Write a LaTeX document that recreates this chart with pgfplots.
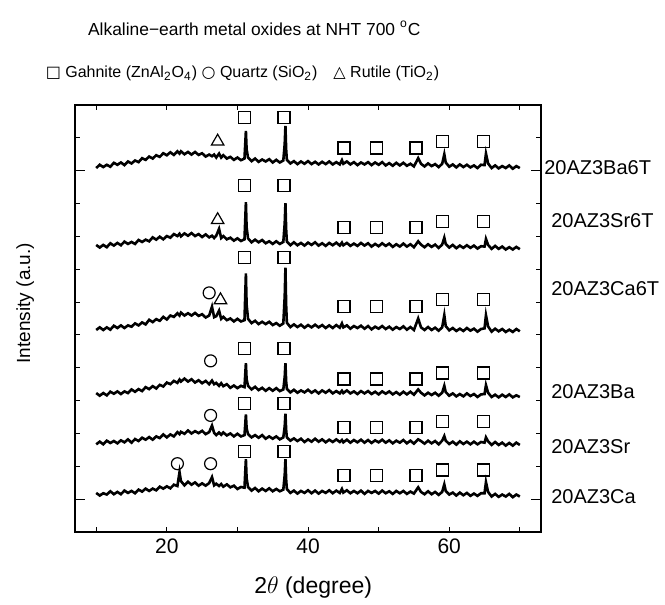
\documentclass[border=0pt]{standalone}
\usepackage{fontspec}
\setmainfont{Liberation Sans}
\newfontfamily\sym{DejaVu Sans}
\usepackage{pgfplots}
\usepackage{pgfplotstable}
\pgfplotsset{compat=1.18}

% columns: 2theta, then one intensity column per sample (offset stacked)
\pgfplotstableread{
x    ca    sr    ba    cat   srt   bat
10.0 0.19 1.67 3.23 5.15 7.74 10.08
10.5 0.11 1.75 3.15 5.23 7.66 10.18
11.0 0.18 1.67 3.23 5.15 7.74 10.11
11.5 0.14 1.78 3.16 5.23 7.67 10.18
12.0 0.24 1.71 3.27 5.16 7.79 10.12
12.5 0.15 1.77 3.21 5.28 7.72 10.24
13.0 0.22 1.70 3.28 5.21 7.80 10.18
13.5 0.15 1.79 3.20 5.29 7.73 10.25
14.0 0.26 1.73 3.28 5.21 7.84 10.17
14.5 0.19 1.82 3.23 5.29 7.77 10.28
15.0 0.25 1.72 3.34 5.25 7.83 10.22
15.5 0.18 1.83 3.27 5.35 7.77 10.31
16.0 0.29 1.77 3.35 5.29 7.89 10.26
16.5 0.23 1.87 3.29 5.38 7.83 10.38
17.0 0.32 1.81 3.41 5.32 7.90 10.33
17.5 0.25 1.89 3.35 5.46 7.85 10.43
18.0 0.32 1.81 3.44 5.39 7.97 10.37
18.5 0.27 1.91 3.37 5.48 7.90 10.47
19.0 0.38 1.86 3.48 5.43 7.99 10.42
19.5 0.32 1.97 3.43 5.55 7.91 10.53
20.0 0.39 1.88 3.55 5.47 8.01 10.47
20.5 0.33 1.97 3.50 5.59 7.96 10.56
21.0 0.44 1.91 3.60 5.55 8.07 10.48
21.5 0.40 2.04 3.54 5.66 8.01 10.59
21.8 0.82 1.98 3.64 5.59 8.08 10.52
22.0 0.55 2.05 3.58 5.68 8.00 10.59
22.5 0.42 1.99 3.67 5.59 8.09 10.50
23.0 0.53 2.09 3.58 5.66 8.02 10.57
23.5 0.44 2.00 3.65 5.59 8.10 10.49
24.0 0.51 2.07 3.55 5.67 8.01 10.57
24.5 0.41 2.01 3.62 5.58 8.07 10.48
25.0 0.48 2.08 3.53 5.63 7.98 10.53
25.5 0.41 1.98 3.60 5.53 8.06 10.43
26.0 0.49 2.04 3.50 5.59 7.97 10.49
26.4 0.67 2.24 3.61 5.86 8.02 10.44
26.7 0.42 2.02 3.50 5.54 7.95 10.49
27.0 0.47 1.95 3.54 5.57 8.02 10.40
27.4 0.40 2.03 3.45 5.74 8.23 10.52
27.7 0.46 1.96 3.53 5.49 7.95 10.40
28.0 0.38 2.03 3.44 5.55 8.01 10.47
28.5 0.45 1.94 3.50 5.45 7.91 10.37
29.0 0.36 2.00 3.39 5.50 7.96 10.42
29.5 0.41 1.91 3.46 5.41 7.87 10.33
30.0 0.31 1.99 3.38 5.49 7.94 10.40
30.5 0.37 1.91 3.45 5.41 7.86 10.32
31.0 0.35 1.95 3.41 5.45 7.91 10.37
31.1 0.78 2.25 3.77 6.15 8.46 10.78
31.2 1.22 2.58 4.14 6.87 9.04 11.21
31.3 0.64 2.16 3.65 5.93 8.28 10.65
31.5 0.37 1.98 3.45 5.49 7.94 10.40
32.0 0.26 1.88 3.34 5.36 7.82 10.29
32.5 0.34 1.95 3.42 5.43 7.90 10.37
33.0 0.24 1.87 3.32 5.33 7.82 10.27
33.5 0.32 1.95 3.39 5.40 7.89 10.34
34.0 0.25 1.84 3.30 5.33 7.79 10.28
34.5 0.33 1.91 3.38 5.40 7.85 10.35
35.0 0.24 1.84 3.30 5.30 7.77 10.25
35.5 0.31 1.91 3.38 5.36 7.85 10.33
36.0 0.24 1.82 3.29 5.28 7.77 10.25
36.5 0.29 1.88 3.34 5.35 7.83 10.31
36.7 0.74 2.22 3.72 6.18 8.40 10.82
36.8 1.22 2.60 4.14 7.05 9.01 11.36
36.9 0.60 2.11 3.59 5.91 8.22 10.65
37.0 0.31 1.88 3.36 5.37 7.84 10.33
37.5 0.19 1.78 3.25 5.24 7.73 10.22
38.0 0.26 1.85 3.33 5.32 7.82 10.29
38.5 0.17 1.77 3.24 5.24 7.73 10.20
39.0 0.25 1.84 3.31 5.31 7.80 10.28
39.5 0.19 1.74 3.25 5.22 7.72 10.21
40.0 0.27 1.82 3.33 5.30 7.81 10.29
40.5 0.18 1.75 3.24 5.23 7.74 10.20
41.0 0.26 1.84 3.31 5.31 7.82 10.27
41.5 0.17 1.75 3.22 5.23 7.72 10.19
42.0 0.25 1.82 3.31 5.30 7.79 10.27
42.5 0.19 1.73 3.24 5.21 7.71 10.20
43.0 0.27 1.81 3.32 5.29 7.80 10.28
43.5 0.18 1.74 3.22 5.21 7.73 10.19
44.0 0.26 1.82 3.29 5.30 7.81 10.26
44.5 0.19 1.74 3.22 5.22 7.72 10.19
44.8 0.31 1.80 3.30 5.35 7.81 10.32
45.0 0.20 1.73 3.23 5.23 7.73 10.21
45.5 0.27 1.81 3.31 5.29 7.80 10.28
46.0 0.18 1.72 3.22 5.19 7.71 10.19
46.5 0.25 1.80 3.28 5.27 7.78 10.26
47.0 0.18 1.73 3.20 5.21 7.71 10.17
47.5 0.26 1.81 3.29 5.28 7.80 10.25
48.0 0.16 1.72 3.22 5.19 7.72 10.19
48.5 0.25 1.80 3.29 5.27 7.79 10.26
49.0 0.19 1.71 3.20 5.17 7.69 10.17
49.5 0.25 1.79 3.27 5.25 7.77 10.25
50.0 0.17 1.73 3.19 5.19 7.70 10.18
50.5 0.26 1.81 3.28 5.27 7.79 10.26
51.0 0.18 1.72 3.21 5.18 7.71 10.16
51.5 0.24 1.79 3.28 5.25 7.78 10.23
52.0 0.16 1.70 3.19 5.16 7.68 10.15
52.5 0.25 1.78 3.26 5.24 7.76 10.24
53.0 0.18 1.72 3.18 5.18 7.69 10.16
53.5 0.25 1.80 3.27 5.26 7.78 10.24
54.0 0.16 1.70 3.19 5.16 7.69 10.15
54.5 0.23 1.78 3.27 5.24 7.76 10.21
55.0 0.17 1.69 3.18 5.15 7.67 10.13
55.6 0.36 1.82 3.34 5.50 7.85 10.38
56.0 0.22 1.77 3.24 5.23 7.75 10.21
56.5 0.15 1.69 3.16 5.15 7.67 10.13
57.0 0.24 1.78 3.24 5.24 7.76 10.22
57.5 0.15 1.70 3.17 5.15 7.68 10.14
58.0 0.22 1.77 3.24 5.22 7.75 10.20
58.5 0.13 1.67 3.15 5.13 7.65 10.11
59.0 0.22 1.78 3.24 5.23 7.75 10.21
59.3 0.45 1.92 3.45 5.60 7.96 10.50
59.5 0.25 1.78 3.26 5.27 7.77 10.25
60.0 0.14 1.68 3.15 5.14 7.66 10.12
60.5 0.20 1.75 3.22 5.21 7.74 10.19
61.0 0.11 1.66 3.13 5.12 7.64 10.10
61.5 0.20 1.76 3.20 5.19 7.72 10.19
62.0 0.12 1.68 3.13 5.12 7.65 10.11
62.5 0.19 1.75 3.22 5.21 7.73 10.18
63.0 0.10 1.67 3.14 5.13 7.65 10.10
63.5 0.17 1.75 3.20 5.19 7.72 10.16
64.0 0.10 1.67 3.11 5.10 7.63 10.08
64.5 0.18 1.74 3.19 5.18 7.70 10.18
65.0 0.18 1.72 3.20 5.20 7.69 10.17
65.2 0.52 1.88 3.47 5.60 7.92 10.52
65.5 0.22 1.76 3.24 5.26 7.74 10.22
66.0 0.08 1.65 3.11 5.10 7.62 10.08
66.5 0.16 1.74 3.18 5.19 7.71 10.16
67.0 0.07 1.65 3.10 5.11 7.62 10.07
67.5 0.14 1.72 3.18 5.18 7.69 10.14
68.0 0.08 1.63 3.11 5.09 7.60 10.08
68.5 0.16 1.71 3.19 5.16 7.67 10.16
69.0 0.06 1.63 3.10 5.09 7.60 10.06
69.5 0.14 1.72 3.16 5.18 7.68 10.14
70.0 0.08 1.65 3.11 5.11 7.61 10.08
}\xrd

\begin{document}
\begin{tikzpicture}
\begin{axis}[
    scale only axis,
    width=233pt, height=213.5pt,
    xmin=7, xmax=73, ymin=-1, ymax=12,
    clip=false,
    axis line style={line width=0.6pt},
    tick align=inside, tick pos=both,
    xtick={20,40,60},
    minor xtick={10,20,...,70},
    major x tick style={draw=none},
    ytick={0,10}, yticklabels={},
    minor ytick={1,...,9,11},
    major tick length=5pt, minor tick length=2.5pt,
    every tick/.style={black, line width=0.5pt},
    tick label style={font=\fontsize{10.5}{12}\selectfont},
    /pgf/number format/assume math mode=true,
    xlabel={2$\theta$ (degree)},
    xlabel style={font=\fontsize{11.5}{13}\selectfont, at={(axis description cs:0.511,-0.129)}, anchor=center},
    ylabel={Intensity (a.u.)},
    ylabel style={font=\fontsize{9.5}{11}\selectfont, at={(axis description cs:-0.107,0.536)}, anchor=center},
]
\addplot[black, line width=1.3pt] table[x=x, y=ca] {\xrd};
\addplot[black, line width=1.3pt] table[x=x, y=sr] {\xrd};
\addplot[black, line width=1.3pt] table[x=x, y=ba] {\xrd};
\addplot[black, line width=1.3pt] table[x=x, y=cat] {\xrd};
\addplot[black, line width=1.3pt] table[x=x, y=srt] {\xrd};
\addplot[black, line width=1.3pt] table[x=x, y=bat] {\xrd};

% gahnite
\addplot[only marks, mark=square, mark size=3pt, mark options={black, line width=0.6pt}] coordinates {
    (31.0,1.45) (36.6,1.45) (45.1,0.71) (49.7,0.71) (55.3,0.71) (59.1,0.89) (64.8,0.89)
    (31.0,2.91) (36.6,2.91) (45.1,2.19) (49.7,2.19) (55.3,2.19) (59.1,2.36) (64.8,2.36)
    (31.0,4.58) (36.6,4.58) (45.1,3.66) (49.7,3.66) (55.3,3.66) (59.1,3.84) (64.8,3.84)
    (31.0,7.35) (36.6,7.35) (45.1,5.86) (49.7,5.86) (55.3,5.86) (59.1,6.08) (64.8,6.08)
    (31.0,9.55) (36.6,9.55) (45.1,8.28) (49.7,8.28) (55.3,8.28) (59.1,8.46) (64.8,8.46)
    (31.0,11.62) (36.6,11.62) (45.1,10.69) (49.7,10.69) (55.3,10.69) (59.1,10.88) (64.8,10.88)
};
% quartz
\addplot[only marks, mark=o, mark size=3pt, mark options={black, line width=0.6pt}] coordinates {
    (21.5,1.08) (26.2,1.08) (26.2,2.55) (26.2,4.21) (26.0,6.28)
};
% rutile
\addplot[only marks, mark=triangle, mark size=3.6pt, mark options={black, line width=0.6pt}] coordinates {
    (27.6,6.06) (27.2,8.50) (27.2,10.89)
};

\node[anchor=west, inner sep=0pt, font=\fontsize{10}{12}\selectfont] at (axis cs:73.4,10.09) {20AZ3Ba6T};
\node[anchor=west, inner sep=0pt, font=\fontsize{10}{12}\selectfont] at (axis cs:74.4,8.48) {20AZ3Sr6T};
\node[anchor=west, inner sep=0pt, font=\fontsize{10}{12}\selectfont] at (axis cs:74.4,6.42) {20AZ3Ca6T};
\node[anchor=west, inner sep=0pt, font=\fontsize{10}{12}\selectfont] at (axis cs:74.4,3.27) {20AZ3Ba};
\node[anchor=west, inner sep=0pt, font=\fontsize{10}{12}\selectfont] at (axis cs:74.4,1.61) {20AZ3Sr};
\node[anchor=west, inner sep=0pt, font=\fontsize{10}{12}\selectfont] at (axis cs:74.4,0.09) {20AZ3Ca};

\node[anchor=west, inner sep=0pt, font=\fontsize{8.7}{11}\selectfont] at (axis cs:8.8,14.33) {Alkaline−earth metal oxides at NHT 700 \textsuperscript{o}C};
\node[anchor=west, inner sep=0pt, font=\fontsize{8}{10}\selectfont] at (axis cs:2.8,12.97)
    {{\sym □} Gahnite (ZnAl\textsubscript{2}O\textsubscript{4}) {\sym ○} Quartz (SiO\textsubscript{2})\quad{\sym △} Rutile (TiO\textsubscript{2})};

\path (rel axis cs:-0.161,-0.1616) rectangle (rel axis cs:1.266,1.2459);
\end{axis}
\end{tikzpicture}
\end{document}
